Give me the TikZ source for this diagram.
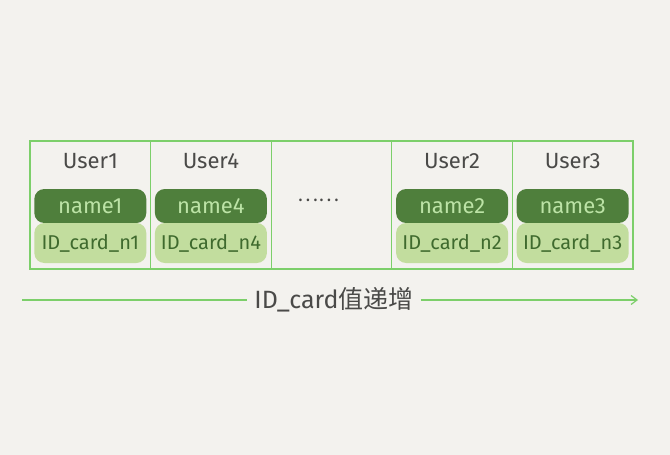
\documentclass[tikz,border=0pt]{standalone}
\usepackage{fontspec}
\setmainfont{Fira Sans}
\newfontfamily\cjk{Noto Sans CJK SC}
\usetikzlibrary{arrows.meta, positioning}

\definecolor{bggray}{HTML}{F3F2EE}
\definecolor{linegreen}{HTML}{7CCF6A}
\definecolor{darkpill}{HTML}{4F7F3C}
\definecolor{lightpill}{HTML}{C2DD9E}
\definecolor{paletext}{HTML}{BCE3A6}
\definecolor{deeptext}{HTML}{3F6A2E}
\definecolor{inkgray}{HTML}{4A4A48}

\begin{document}
\begin{tikzpicture}[x=1pt, y=-1pt, node distance=0pt,
	cell/.style={draw=linegreen, line width=1.2pt, minimum width=120.6pt, minimum height=128pt, inner sep=0pt, outer sep=0pt},
	userlabel/.style={text=inkgray, font=\fontsize{22}{22}\selectfont, inner sep=0pt},
	namepill/.style={fill=darkpill, text=paletext, rounded corners=10pt, minimum width=112pt, minimum height=34pt, inner sep=0pt, outer sep=0pt, font=\fontsize{22}{22}\selectfont},
	idpill/.style={fill=lightpill, text=deeptext, rounded corners=10pt, minimum width=112pt, minimum height=40pt, inner sep=0pt, outer sep=0pt, font=\fontsize{20}{20}\selectfont},
	axisline/.style={draw=linegreen, line width=1.2pt}]

\useasboundingbox[fill=bggray] (0,0) rectangle (670,455);

\node[cell, anchor=north west]		(c1)	at (30,141)			{};
\node[cell]							(c2)	[right=of c1]		{};
\node[cell]							(c3)	[right=of c2]		{};
\node[cell]							(c4)	[right=of c3]		{};
\node[cell]							(c5)	[right=of c4]		{};

\node[userlabel]					(u1)	[below=12pt of c1.north]	{User1};
\node[userlabel]					(u4)	[below=12pt of c2.north]	{User4};
\node[userlabel]					(u2)	[below=12pt of c4.north]	{User2};
\node[userlabel]					(u3)	[below=12pt of c5.north]	{User3};

\node[namepill]						(n1)	[below=48pt of c1.north]	{name1};
\node[namepill]						(n4)	[below=48pt of c2.north]	{name4};
\node[namepill]						(n2)	[below=48pt of c4.north]	{name2};
\node[namepill]						(n3)	[below=48pt of c5.north]	{name3};

\node[idpill]						(i1)	[below=of n1]		{ID\_card\_n1};
\node[idpill]						(i4)	[below=of n4]		{ID\_card\_n4};
\node[idpill]						(i2)	[below=of n2]		{ID\_card\_n2};
\node[idpill]						(i3)	[below=of n3]		{ID\_card\_n3};

\node[text=inkgray, font=\cjk\fontsize{20}{20}\selectfont]	(dots)	at ([xshift=-13pt, yshift=-59pt]c3.north)	{……};

\coordinate							(axL)	at (22,300);
\coordinate							(axR)	at (638,300);
\node[text=inkgray, inner sep=7pt, font=\fontsize{25}{25}\selectfont]	(axis)	at (334,300)	{ID\_card{\cjk 值递增}};

\draw[axisline]						(axL) -- (axis);
\draw[axisline, -{Straight Barb[length=6pt, width=9pt]}]	(axis) -- (axR);
\end{tikzpicture}
\end{document}
